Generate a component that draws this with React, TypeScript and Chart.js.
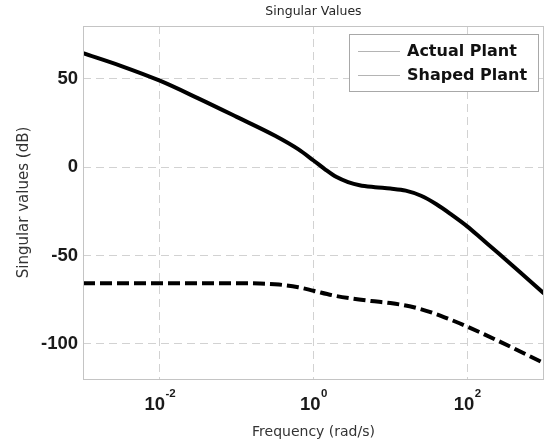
import { useEffect, useRef } from "react";
import { Chart, registerables } from "chart.js";

Chart.register(...registerables);

// Frequencies as decade exponents (rad/s = 10^exp) and singular values (dB)
const actualFreqExp = [-3, -2.5, -2, -1.5, -1, -0.5, -0.2, 0, 0.15, 0.3, 0.45, 0.6, 0.8, 1.0, 1.2, 1.4, 1.6, 1.8, 2.0, 2.2, 2.4, 2.7, 3.0];
const actualPlantDb = [64.6, 57.3, 49, 39, 28.5, 17.8, 10.2, 3.8, -1.2, -5.6, -8.4, -10.2, -11.3, -12.1, -13.3, -16.2, -21, -27, -33.5, -41, -48.5, -60, -71.5];

const shapedFreqExp = [-3, -2, -1, -0.7, -0.45, -0.2, 0, 0.25, 0.5, 0.75, 1.0, 1.25, 1.5, 1.75, 2.0, 2.4, 3.0];
const shapedPlantDb = [-65.7, -65.7, -65.7, -65.9, -66.5, -68.0, -70.0, -72.6, -74.4, -75.8, -77.0, -78.8, -81.8, -85.8, -90.3, -98.3, -111];

const seriesLabels = ["Actual Plant", "Shaped Plant"];
const xTickExponents = [-2, 0, 2];
const yTickValues = [-100, -50, 0, 50];

const chartTitle = "Singular Values";
const xAxisTitle = "Frequency (rad/s)";
const yAxisTitle = "Singular values (dB)";

const decorPlugin = {
  id: "decor",
  afterDraw(chart: any) {
    const ctx = chart.ctx as CanvasRenderingContext2D;
    const area = chart.chartArea;
    const xScale = chart.scales.x;
    ctx.save();

    // plot box
    ctx.strokeStyle = "#c4c4c4";
    ctx.lineWidth = 1;
    ctx.setLineDash([]);
    ctx.strokeRect(Math.round(area.left) + 0.5, Math.round(area.top) + 0.5,
      Math.round(area.right - area.left) - 1, Math.round(area.bottom - area.top));

    // x tick labels with superscript exponents
    ctx.fillStyle = "#1a1a1a";
    ctx.textBaseline = "alphabetic";
    ctx.textAlign = "left";
    const baseFont = "bold 18.5px 'Liberation Sans', Arial, sans-serif";
    const expFont = "bold 11.5px 'Liberation Sans', Arial, sans-serif";
    for (const e of xTickExponents) {
      const px = xScale.getPixelForValue(Math.pow(10, e));
      const base = "10";
      const exp = String(e);
      ctx.font = baseFont;
      const wb = ctx.measureText(base).width;
      ctx.font = expFont;
      const we = ctx.measureText(exp).width;
      const start = px - (wb + we) / 2;
      ctx.font = baseFont;
      ctx.fillText(base, start, area.bottom + 31);
      ctx.font = expFont;
      ctx.fillText(exp, start + wb + 0.5, area.bottom + 18);
    }

    // legend box inside plot, top right
    const bx = area.right - 195;
    const by = area.top + 8;
    const bw = 189;
    const bh = 57;
    ctx.fillStyle = "#ffffff";
    ctx.fillRect(bx, by, bw, bh);
    ctx.strokeStyle = "#a8a8a8";
    ctx.lineWidth = 1;
    ctx.strokeRect(bx + 0.5, by + 0.5, bw, bh);
    const labels = chart.data.datasets.map((d: any) => d.label);
    labels.forEach((lab: string, i: number) => {
      const ly = by + 17 + i * 24;
      ctx.strokeStyle = "#b4b4b4";
      ctx.lineWidth = 1;
      ctx.beginPath();
      ctx.moveTo(bx + 9, ly + 0.5);
      ctx.lineTo(bx + 51, ly + 0.5);
      ctx.stroke();
      ctx.fillStyle = "#111111";
      ctx.font = "bold 16px 'DejaVu Sans', sans-serif";
      ctx.textBaseline = "middle";
      ctx.fillText(lab, bx + 58, ly + 1);
    });
    ctx.restore();
  },
};

export default function App() {
  const canvasRef = useRef<HTMLCanvasElement | null>(null);

  useEffect(() => {
    const canvas = canvasRef.current;
    if (!canvas) return;
    const chart = new Chart(canvas, {
      type: "line",
      data: {
        datasets: [
          {
            label: seriesLabels[0],
            data: actualFreqExp.map((e, i) => ({ x: Math.pow(10, e), y: actualPlantDb[i] })),
            borderColor: "#000000",
            backgroundColor: "#000000",
            borderWidth: 4,
            pointRadius: 0,
            cubicInterpolationMode: "monotone",
            fill: false,
          },
          {
            label: seriesLabels[1],
            data: shapedFreqExp.map((e, i) => ({ x: Math.pow(10, e), y: shapedPlantDb[i] })),
            borderColor: "#000000",
            backgroundColor: "#000000",
            borderWidth: 4,
            borderDash: [12, 5],
            pointRadius: 0,
            cubicInterpolationMode: "monotone",
            fill: false,
          },
        ],
      },
      options: {
        responsive: false,
        animation: false,
        events: [],
        layout: { padding: { right: 3, left: 0, top: 0, bottom: 0 } },
        plugins: {
          legend: { display: false },
          tooltip: { enabled: false },
          title: {
            display: true,
            text: chartTitle,
            fullSize: false,
            color: "#262626",
            font: { family: "'DejaVu Sans', sans-serif", size: 12.5, weight: "normal" },
            padding: { top: 4, bottom: 7 },
          },
        },
        scales: {
          x: {
            type: "logarithmic",
            min: 0.001,
            max: 1000,
            afterBuildTicks: (s: any) => {
              s.ticks = xTickExponents.map((e) => ({ value: Math.pow(10, e) }));
            },
            afterFit: (s: any) => {
              s.height = 62;
            },
            grid: { color: "#d2d2d2", lineWidth: 1, drawTicks: false },
            border: { display: false, dash: [8, 5] },
            ticks: { display: false },
            title: {
              display: true,
              text: xAxisTitle,
              color: "#333333",
              font: { family: "'DejaVu Sans', sans-serif", size: 14 },
              padding: { top: 0, bottom: 0 },
            },
          },
          y: {
            type: "linear",
            min: -120,
            max: 80,
            afterBuildTicks: (s: any) => {
              s.ticks = yTickValues.map((v) => ({ value: v }));
            },
            afterFit: (s: any) => {
              s.width = 83;
            },
            grid: { color: "#d2d2d2", lineWidth: 1, drawTicks: false },
            border: { display: false, dash: [8, 5] },
            ticks: {
              padding: 5,
              color: "#1a1a1a",
              font: { family: "'Liberation Sans', Arial, sans-serif", size: 18.5, weight: "bold" },
            },
            title: {
              display: true,
              text: yAxisTitle,
              color: "#333333",
              font: { family: "'DejaVu Sans', sans-serif", size: 15 },
              padding: { top: 15, bottom: 0 },
            },
          },
        },
      } as any,
      plugins: [decorPlugin],
    });
    return () => chart.destroy();
  }, []);

  return (
    <div style={{ position: "fixed", left: 0, top: 0, width: 547, height: 441, background: "#fff" }}>
      <canvas ref={canvasRef} width={547} height={441} style={{ display: "block" }} />
    </div>
  );
}
